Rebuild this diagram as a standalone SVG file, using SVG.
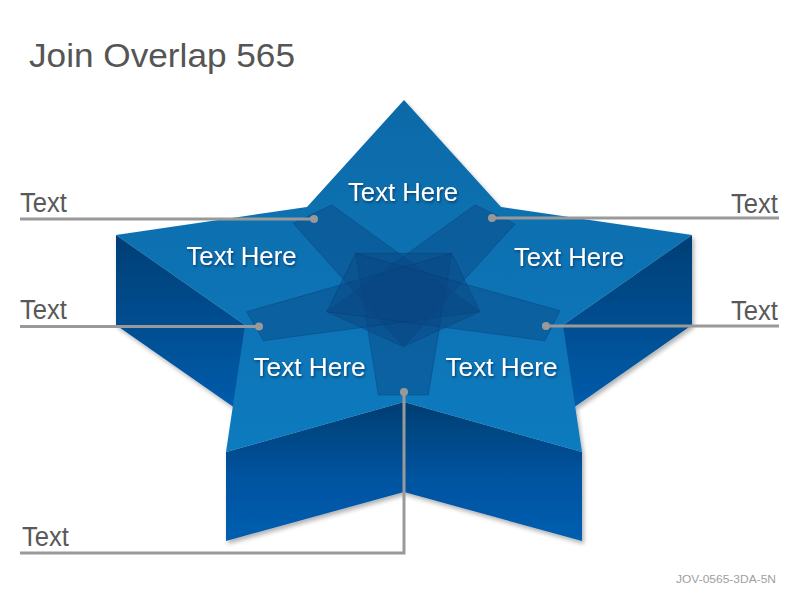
<svg xmlns="http://www.w3.org/2000/svg" width="800" height="600" viewBox="0 0 800 600">
  <defs>
    <linearGradient id="gTop" x1="0" y1="100" x2="0" y2="452" gradientUnits="userSpaceOnUse">
      <stop offset="0" stop-color="#0a6aa8"/>
      <stop offset="1" stop-color="#0a7bbf"/>
    </linearGradient>
    <linearGradient id="gSide" x1="0" y1="235" x2="0" y2="415" gradientUnits="userSpaceOnUse">
      <stop offset="0" stop-color="#003f75"/>
      <stop offset="1" stop-color="#005dad"/>
    </linearGradient>
    <linearGradient id="gFront" x1="0" y1="402" x2="0" y2="541" gradientUnits="userSpaceOnUse">
      <stop offset="0" stop-color="#003e72"/>
      <stop offset="0.55" stop-color="#0054a0"/>
      <stop offset="1" stop-color="#005eb0"/>
    </linearGradient>
    <filter id="shadow" x="-10%" y="-10%" width="120%" height="120%">
      <feDropShadow dx="2" dy="3" stdDeviation="2" flood-color="#000" flood-opacity="0.3"/>
    </filter>
    <filter id="tshadow" x="-10%" y="-20%" width="120%" height="140%">
      <feDropShadow dx="1" dy="1.5" stdDeviation="1" flood-color="#002040" flood-opacity="0.6"/>
    </filter>
    <style>
      .title { font-family: "Liberation Sans", Arial, sans-serif; font-size: 34px; fill: #555555; }
      .lbl { font-family: "Liberation Sans", Arial, sans-serif; font-size: 27px; fill: #595959; }
      .here { font-family: "Liberation Sans", Arial, sans-serif; font-size: 26px; fill: #ffffff; text-anchor: middle; filter: url(#tshadow); }
      .foot { font-family: "Liberation Sans", Arial, sans-serif; font-size: 11px; fill: #a0a0a0; text-anchor: end; }
      .ray { fill: #0a4682; fill-opacity: 0.43; stroke: #08386a; stroke-opacity: 0.45; stroke-width: 0.8; }
      .conn { fill: none; stroke: #999999; stroke-width: 3; }
      .dot { fill: #999999; }
    </style>
  </defs>

  <text class="title" x="29" y="67" textLength="266" lengthAdjust="spacingAndGlyphs">Join Overlap 565</text>

  <g id="star" filter="url(#shadow)">
    <polygon id="side-left" points="116,235 245,325 245,415 116,325" fill="url(#gSide)"/>
    <polygon id="side-right" points="692,235 563,325 563,415 692,325" fill="url(#gSide)"/>
    <polygon id="front-left" points="226,452 404,402 404,492 226,541" fill="url(#gFront)"/>
    <polygon id="front-right" points="404,402 582,452 582,541 404,492" fill="url(#gFront)"/>
    <polygon id="top-face" points="404,100 501,207 692,235 563,325 582,452 404,402 226,452 245,325 116,235 307,207" fill="url(#gTop)"/>
  </g>

  <g id="rays">
    <polygon id="ray-ul" class="ray" points="293.3,223.3 331.7,205 480,311.7 403.3,346.7"/>
    <polygon id="ray-ur" class="ray" points="515,224 475,205 326.7,311.7 403.3,346.7"/>
    <polygon id="ray-b" class="ray" points="378.3,395 428.3,395 451.7,253.3 355.7,253.3"/>
    <polygon id="ray-l" class="ray" points="246.7,311.7 263.3,340.7 480,311.7 451.7,253.3"/>
    <polygon id="ray-r" class="ray" points="560,310.7 545,340.7 326.7,311.7 355.7,253.3"/>
  </g>

  <g id="labels-here">
    <text id="t-top" class="here" x="403" y="201" textLength="110" lengthAdjust="spacingAndGlyphs">Text Here</text>
    <text id="t-ul" class="here" x="241.5" y="264.5" textLength="110" lengthAdjust="spacingAndGlyphs">Text Here</text>
    <text id="t-ur" class="here" x="569" y="265.5" textLength="110" lengthAdjust="spacingAndGlyphs">Text Here</text>
    <text id="t-ll" class="here" x="309.5" y="376" textLength="112" lengthAdjust="spacingAndGlyphs">Text Here</text>
    <text id="t-lr" class="here" x="501.5" y="376" textLength="112" lengthAdjust="spacingAndGlyphs">Text Here</text>
  </g>

  <g id="connectors">
    <polyline class="conn" points="314,219 20,219"/>
    <polyline class="conn" points="492,218 779,218"/>
    <polyline class="conn" points="259,326.5 20,326.5"/>
    <polyline class="conn" points="546,326 779,326"/>
    <polyline class="conn" points="404,392 404,553 20,553"/>
    <circle class="dot" cx="314" cy="219" r="4"/>
    <circle class="dot" cx="492" cy="218" r="4"/>
    <circle class="dot" cx="259" cy="326.5" r="4"/>
    <circle class="dot" cx="546" cy="326" r="4"/>
    <circle class="dot" cx="404" cy="392" r="4"/>
  </g>

  <g id="side-labels">
    <text class="lbl" x="20" y="212" textLength="47" lengthAdjust="spacingAndGlyphs">Text</text>
    <text class="lbl" x="731" y="213" textLength="47" lengthAdjust="spacingAndGlyphs">Text</text>
    <text class="lbl" x="20" y="319" textLength="47" lengthAdjust="spacingAndGlyphs">Text</text>
    <text class="lbl" x="731" y="320" textLength="47" lengthAdjust="spacingAndGlyphs">Text</text>
    <text class="lbl" x="22" y="546" textLength="47" lengthAdjust="spacingAndGlyphs">Text</text>
  </g>

  <text class="foot" x="776" y="583" textLength="100" lengthAdjust="spacingAndGlyphs">JOV-0565-3DA-5N</text>
</svg>
